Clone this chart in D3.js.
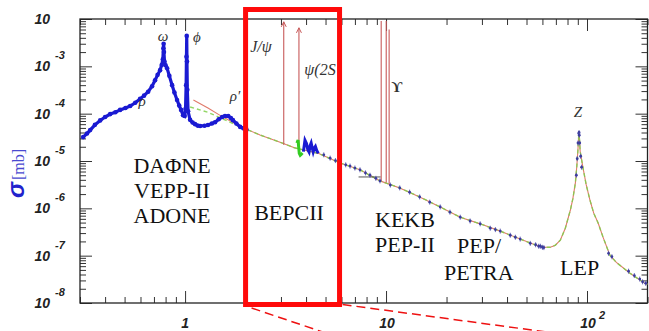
<!DOCTYPE html>
<meta charset="utf-8">
<style>
body{margin:0;background:#fff}
svg{display:block}
</style>
<svg width="649" height="331" id="chart"></svg>
<script src="https://d3js.org/d3.v7.min.js"></script>
<script>

// sqrt(s) in GeV, sigma in mb : low energy blue data (rho/omega/phi region)
var lowE = [0.311,0.325,0.337,0.356,0.378,0.40,0.424,0.45,0.475,0.505,0.533,0.565,0.597,0.625,0.655,0.685,0.709,0.73,0.751,0.765,0.775,0.780,0.782,0.785,0.79,0.80,0.814,0.835,0.862,0.885,0.912,0.935,0.955,0.977,0.995,1.005,1.012,1.016,1.019,1.022,1.026,1.035,1.059,1.09,1.121,1.155,1.188,1.25,1.30,1.36,1.41,1.47,1.53,1.58,1.64,1.69,1.73,1.80,1.88,1.95,2.02]
var lowSigma = [3.2e-5,3.8e-5,4.5e-5,5.8e-5,7.2e-5,8.5e-5,9.8e-5,1.07e-4,1.2e-4,1.32e-4,1.45e-4,1.7e-4,2.05e-4,2.4e-4,2.9e-4,3.8e-4,5.1e-4,6.6e-4,8.3e-4,1.07e-3,1.4e-3,2.4e-3,3.0e-3,2.0e-3,1.26e-3,1.05e-3,9.1e-4,6.3e-4,4.0e-4,2.8e-4,1.95e-4,1.48e-4,1.2e-4,9.3e-5,8.9e-5,1.26e-4,4.0e-4,1.6e-3,4.4e-3,1.26e-3,3.2e-4,1.12e-4,7.4e-5,6.5e-5,6.0e-5,5.6e-5,5.5e-5,5.56e-5,5.75e-5,6.2e-5,6.6e-5,7.6e-5,8.5e-5,8.9e-5,8.9e-5,8.1e-5,7.3e-5,6.2e-5,5.25e-5,4.9e-5,4.6e-5]

// BES scan near psi(2S) / psi(3770), green
var besE = [3.60,3.65,3.67,3.70,3.74,3.78,3.84]
var besSigma = [2.4e-5,2.75e-5,2.1e-5,1.45e-5,1.32e-5,1.38e-5,1.48e-5]

// charm threshold structure, blue
var charmE = [3.88,3.95,4.02,4.08,4.14,4.19,4.24,4.30,4.34,4.40,4.45,4.52,4.60]
var charmSigma = [1.58e-5,2.75e-5,2.35e-5,1.74e-5,1.55e-5,2.1e-5,2.4e-5,1.82e-5,1.55e-5,1.9e-5,2.04e-5,1.66e-5,1.45e-5]

// higher energy points (with small error bars)
var highE = [4.9,5.27,5.6,5.9,6.3,6.62,7.0,7.42,7.9,8.32,8.9,9.33,10.5,11.7,13.1,14.7,16.5,18.6,20.8,23.4,26.2,29.4,33.0,35.0,37.0,41.5,44.0,46.5,52.2,55.5,57.5,58.6,60.0,61.0,
             88.5,89.4,90.2,91.0,91.3,91.5,92.0,93.0,94.0,128,133,161,172,183,189,196]
var highSigma = [1.35e-5,1.15e-5,1.02e-5,9.1e-6,8.3e-6,7.8e-6,7.1e-6,6.5e-6,5.6e-6,5.0e-6,4.3e-6,3.8e-6,3.1e-6,2.7e-6,2.2e-6,1.74e-6,1.35e-6,1.07e-6,8.3e-7,6.5e-7,5.4e-7,4.7e-7,3.8e-7,3.55e-7,3.3e-7,2.7e-7,2.45e-7,2.24e-7,1.82e-7,1.7e-7,1.58e-7,1.58e-7,1.5e-7,1.48e-7,
             5.0e-6,1.12e-5,2.4e-5,3.8e-5,4.0e-5,3.5e-5,2.4e-5,1.26e-5,7.4e-6,1.12e-7,9.5e-8,4.7e-8,3.8e-8,3.2e-8,2.8e-8,2.6e-8]

// theory curves
var redE = [1.10,1.3,1.5,1.9,2.36,2.97,3.5,4.6,5.9,7.42,9.33,11.7,14.7,18.6,23.4,29.4,37,46.5,55,62,65.7,69.6,73.7,78,82.6,85,87.5,89,90.1,90.8,91.2,91.6,92.5,95.4,99,103.5,108,113.6,120,130,140,163,194,200]
var redSigma = [1.95e-4,1.32e-4,9.1e-5,5.25e-5,3.55e-5,2.5e-5,1.9e-5,1.45e-5,9.1e-6,6.5e-6,3.8e-6,2.7e-6,1.74e-6,1.07e-6,6.5e-7,4.7e-7,3.3e-7,2.24e-7,1.7e-7,1.51e-7,1.51e-7,1.66e-7,2.14e-7,3.8e-7,9.1e-7,1.58e-6,3.4e-6,7.9e-6,1.7e-5,3.0e-5,4.1e-5,3.2e-5,1.58e-5,7.4e-6,3.2e-6,1.48e-6,7.9e-7,4.9e-7,2.5e-7,1.02e-7,7.2e-8,4.3e-8,2.6e-8,2.5e-8]
var greenE = [1.06,1.3,1.6,1.9]
var greenSigma = [1.38e-4,1.07e-4,7.2e-5,5.1e-5]

// resonances drawn as arrows: E, sigma at bottom, sigma at top
var resE = [3.097,3.686,9.46,10.02,10.36]
var resLow = [2.2e-5,1.7e-5,3.8e-6,3.5e-6,3.3e-6]
var resHigh = [8.7e-3,6.5e-3,9.1e-3,9.1e-3,6.0e-3]

var xMajor = [1,10,100]
var xExp = ["","",2]
var yMajorExp = [-8,-7,-6,-5,-4,-3,-2]

var svg = d3.select("#chart")

var x = d3.scaleLog().domain([0.3,200]).range([80,647.5])
var y = d3.scaleLog().domain([1e-8,1e-2]).range([303,19])

// minor and major tick values
var xMinor = [], yMinor = []
for (var k=-1;k<=2;k++) for (var m=2;m<=9;m++){ var v=m*Math.pow(10,k); if (v>=0.3 && v<=200) xMinor.push(v) }
for (var k=-8;k<=-3;k++) for (var m=2;m<=9;m++){ yMinor.push(m*Math.pow(10,k)) }
var yMajor = yMajorExp.map(e => Math.pow(10,e))

function tickGroup(axis, tr){
	var g = svg.append("g").attr("transform", tr).call(axis)
	g.select(".domain").remove()
	g.selectAll("line").attr("stroke","#333").attr("stroke-width",1)
}
tickGroup(d3.axisBottom(x).tickValues(xMinor).tickSize(-6).tickFormat(""), "translate(0,303)")
tickGroup(d3.axisBottom(x).tickValues(xMajor).tickSize(-12).tickFormat(""), "translate(0,303)")
tickGroup(d3.axisTop(x).tickValues(xMinor).tickSize(-6).tickFormat(""), "translate(0,19)")
tickGroup(d3.axisTop(x).tickValues(xMajor).tickSize(-12).tickFormat(""), "translate(0,19)")
tickGroup(d3.axisLeft(y).tickValues(yMinor).tickSize(-6).tickFormat(""), "translate(80,0)")
tickGroup(d3.axisLeft(y).tickValues(yMajor).tickSize(-12).tickFormat(""), "translate(80,0)")
tickGroup(d3.axisRight(y).tickValues(yMinor).tickSize(-6).tickFormat(""), "translate(647.5,0)")
tickGroup(d3.axisRight(y).tickValues(yMajor).tickSize(-12).tickFormat(""), "translate(647.5,0)")

svg.append("rect").attr("x",80).attr("y",19).attr("width",567.5).attr("height",284)
	.attr("fill","none").attr("stroke","#222").attr("stroke-width",1.3)

// tick labels, ROOT style
var lblFont = "'Liberation Sans', Arial, sans-serif"
yMajorExp.forEach(function(e){
	var yy = y(Math.pow(10,e))
	svg.append("text").attr("x",50).attr("y",yy+5).attr("text-anchor","end")
		.attr("font-family",lblFont).attr("font-weight","bold").attr("font-style","italic")
		.attr("font-size",14).attr("fill","#222").text("10")
	if (e != -2)
	svg.append("text").attr("x",55).attr("y",yy-7)
		.attr("font-family",lblFont).attr("font-weight","bold").attr("font-style","italic")
		.attr("font-size",11).attr("fill","#222").text(e)
})
xMajor.forEach(function(v,i){
	var xx = x(v)
	if (v==1) {
		svg.append("text").attr("x",xx).attr("y",328).attr("text-anchor","middle")
			.attr("font-family",lblFont).attr("font-weight","bold").attr("font-style","italic")
			.attr("font-size",14).attr("fill","#222").text("1")
	} else {
		svg.append("text").attr("x",xx+1).attr("y",328).attr("text-anchor","middle")
			.attr("font-family",lblFont).attr("font-weight","bold").attr("font-style","italic")
			.attr("font-size",14).attr("fill","#222").text("10")
		if (xExp[i]!=="")
		svg.append("text").attr("x",xx+12).attr("y",319)
			.attr("font-family",lblFont).attr("font-weight","bold").attr("font-style","italic")
			.attr("font-size",11).attr("fill","#222").text(xExp[i])
	}
})

// y title
var yt = svg.append("text").attr("transform","translate(24,198) rotate(-90)").attr("fill","#2222cc")
yt.append("tspan").attr("font-family",lblFont).attr("font-weight","bold").attr("font-style","italic")
	.attr("font-size",24).text("\u03c3")
yt.append("tspan").attr("font-family","'Liberation Serif', serif").attr("font-size",16)
	.attr("fill","#4a4ad0").attr("dx",2).text("[mb]")

var line = d3.line().x(d => x(d[0])).y(d => y(d[1]))

// theory curves
svg.append("path").datum(d3.zip(redE,redSigma)).attr("d",line)
	.attr("fill","none").attr("stroke","#e07a6a").attr("stroke-width",1.1)
svg.append("path").datum(d3.zip(greenE,greenSigma).concat(d3.zip(redE,redSigma).slice(3)))
	.attr("d",line).attr("fill","none").attr("stroke","#7fcf4a").attr("stroke-width",1.4)
	.attr("stroke-dasharray","4,3").attr("opacity",0.85)

// resonance arrows
resE.forEach(function(e,i){
	var xx = x(e), y0 = y(resLow[i]), y1 = y(resHigh[i])
	svg.append("line").attr("x1",xx).attr("x2",xx).attr("y1",y0).attr("y2",y1)
		.attr("stroke","#c85a5a").attr("stroke-width",1.1)
	if (i<2) svg.append("path").attr("d","M"+(xx-2.5)+","+(y1+5)+"L"+xx+","+y1+"L"+(xx+2.5)+","+(y1+5))
		.attr("fill","none").attr("stroke","#c85a5a").attr("stroke-width",1)
})
svg.append("line").attr("x1",x(7.3)).attr("x2",x(9.4)).attr("y1",y(4.6e-6)).attr("y2",y(4.6e-6))
	.attr("stroke","#555").attr("stroke-width",1)

// low energy data: thick blue
var lowPts = d3.zip(lowE,lowSigma)
svg.append("path").datum(lowPts).attr("d",line).attr("fill","none")
	.attr("stroke","#1a1ad2").attr("stroke-width",3.2)
svg.selectAll(".lowdot").data(lowPts).enter().append("circle").attr("class","lowdot")
	.attr("cx",d => x(d[0])).attr("cy",d => y(d[1])).attr("r",2.3).attr("fill","#1a1ad2")

var charmPts = d3.zip(charmE,charmSigma)
svg.append("path").datum(charmPts).attr("d",line).attr("fill","none")
	.attr("stroke","#1a1ad2").attr("stroke-width",3)

var besPts = d3.zip(besE,besSigma)
svg.append("path").datum(besPts).attr("d",line).attr("fill","none")
	.attr("stroke","#33cc22").attr("stroke-width",3)

// higher energy points
var highPts = d3.zip(highE,highSigma)
var hp = svg.selectAll(".hp").data(highPts).enter().append("g").attr("class","hp")
hp.append("line").attr("x1",d => x(d[0])).attr("x2",d => x(d[0]))
	.attr("y1",d => y(d[1])-2.5).attr("y2",d => y(d[1])+2.5)
	.attr("stroke","#5a5ab0").attr("stroke-width",0.9)
hp.append("circle").attr("cx",d => x(d[0])).attr("cy",d => y(d[1])).attr("r",1.4)
	.attr("fill","#3c3c9e")

// labels
var serif = "'Liberation Serif', 'Times New Roman', serif"
var greek = [
	{t:"\u03c9", x:163, y:41, s:15},
	{t:"\u03d5", x:197, y:42, s:15},
	{t:"\u03c1", x:142, y:106, s:15},
	{t:"\u03c1\u2032", x:235, y:101, s:15},
	{t:"J/\u03c8", x:261, y:52, s:16},
	{t:"\u03c8(2S", x:320, y:75, s:16},
	{t:"Z", x:578, y:117, s:15}
]
greek.forEach(function(g){
	svg.append("text").attr("x",g.x).attr("y",g.y).attr("text-anchor","middle")
		.attr("font-family",serif).attr("font-style","italic").attr("font-size",g.s)
		.attr("fill","#333").text(g.t)
})
svg.append("text").attr("x",397).attr("y",92).attr("text-anchor","middle")
	.attr("font-family",serif).attr("font-weight","bold").attr("font-size",15).attr("fill","#333").text("\u03d2")

var exps = [
	{t:"DA\u03a6NE", x:172, y:173, a:"middle"},
	{t:"VEPP-II", x:172, y:198, a:"middle"},
	{t:"ADONE", x:172, y:223, a:"middle"},
	{t:"BEPCII", x:289, y:220, a:"middle"},
	{t:"KEKB", x:375, y:227, a:"start"},
	{t:"PEP-II", x:375, y:252, a:"start"},
	{t:"PEP/", x:457, y:253, a:"start"},
	{t:"PETRA", x:444, y:280, a:"start"},
	{t:"LEP", x:560, y:275, a:"start"}
]
exps.forEach(function(e){
	svg.append("text").attr("x",e.x).attr("y",e.y).attr("text-anchor",e.a)
		.attr("font-family",serif).attr("font-size",22).attr("fill","#111").text(e.t)
})

// BEPCII range box and zoom guides
var bx0 = x(2.0), bx1 = x(5.87)
svg.append("rect").attr("x",bx0).attr("y",9.5).attr("width",bx1-bx0).attr("height",295)
	.attr("fill","none").attr("stroke","#ff0a0a").attr("stroke-width",5)
svg.append("line").attr("x1",bx0+6).attr("y1",308).attr("x2",bx0+86).attr("y2",335)
	.attr("stroke","#ee1111").attr("stroke-width",1.5).attr("stroke-dasharray","9,5")
svg.append("line").attr("x1",bx1+3).attr("y1",304.5).attr("x2",bx1+222).attr("y2",334)
	.attr("stroke","#ee1111").attr("stroke-width",1.5).attr("stroke-dasharray","9,5")

</script>
